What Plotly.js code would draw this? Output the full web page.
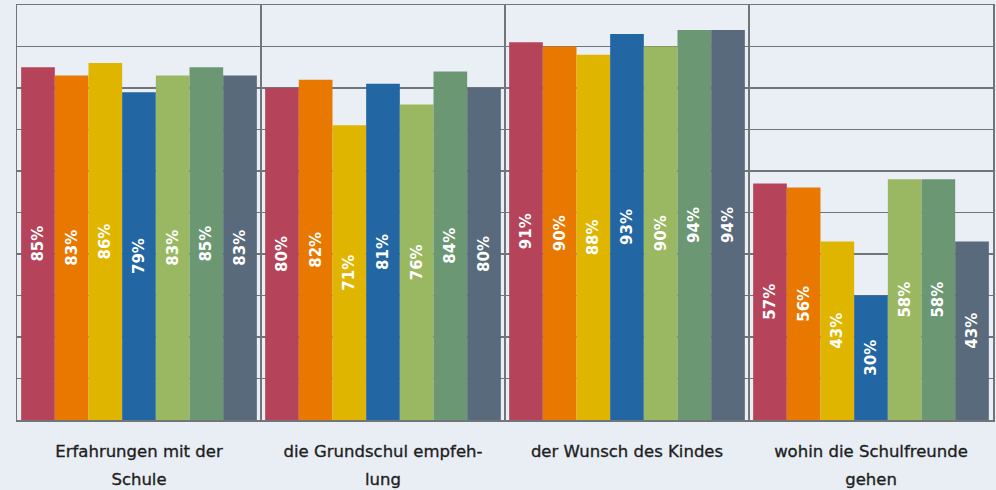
<!DOCTYPE html>
<html>
<head>
<meta charset="utf-8">
<script src="https://cdn.plot.ly/plotly-3.0.1.min.js"></script>
<style>
  html, body { margin: 0; padding: 0; background: #e9eef5; }
  #chart { width: 996px; height: 490px; }
  .xtick text { stroke: #1e1e1e; stroke-width: 0.35px; }
</style>
</head>
<body>
<div id="chart"></div>
<script>
const categories = [
  "Erfahrungen mit der\nSchule",
  "die Grundschul empfeh-\nlung",
  "der Wunsch des Kindes",
  "wohin die Schulfreunde\ngehen"
];
const seriesNames = ["Gruppe 1", "Gruppe 2", "Gruppe 3", "Gruppe 4", "Gruppe 5", "Gruppe 6", "Gruppe 7"];
const s1 = [85, 80, 91, 57];
const s2 = [83, 82, 90, 56];
const s3 = [86, 71, 88, 43];
const s4 = [79, 81, 93, 30];
const s5 = [83, 76, 90, 58];
const s6 = [85, 84, 94, 58];
const s7 = [83, 80, 94, 43];
const seriesValues = [s1, s2, s3, s4, s5, s6, s7];
const colors = ["#b5445a", "#e87800", "#e0b500", "#2266a3", "#9ab862", "#6c9773", "#586a7c"];

const tickText = categories.map(c =>
  c.split("\n").map(line => '<span style="font-size:16.5px">' + line + '</span>').join("<br>")
);

const traces = seriesValues.map((vals, i) => ({
  type: "bar",
  name: seriesNames[i],
  x: categories,
  y: vals,
  marker: { color: colors[i], line: { width: 0 } },
  texttemplate: "%{y}%",
  textposition: "inside",
  insidetextanchor: "middle",
  textangle: -90,
  constraintext: "none",
  textfont: { color: "#ffffff", size: 15, family: "DejaVu Sans", weight: 700 },
  hoverinfo: "none",
  showlegend: false
}));

const gridColor = "#707579";
const layout = {
  width: 996,
  height: 490,
  margin: { l: 17, r: 3, t: 5, b: 70 },
  paper_bgcolor: "#e9eef5",
  plot_bgcolor: "#eaeff6",
  barmode: "group",
  bargap: 0.034,
  bargroupgap: 0,
  showlegend: false,
  font: { family: "DejaVu Sans", color: "#1e1e1e" },
  xaxis: {
    type: "category",
    tickson: "boundaries",
    tickmode: "array",
    tickvals: categories,
    ticktext: tickText,
    showgrid: true,
    gridcolor: gridColor,
    gridwidth: 1.5,
    showline: true,
    mirror: true,
    linecolor: gridColor,
    linewidth: 1.5,
    ticks: "",
    tickfont: { size: 21.5, color: "#1e1e1e", family: "DejaVu Sans" },
    ticklabelstandoff: 10
  },
  yaxis: {
    range: [0, 100],
    dtick: 10,
    showgrid: true,
    gridcolor: gridColor,
    gridwidth: 1.5,
    showline: true,
    mirror: true,
    linecolor: gridColor,
    linewidth: 1.5,
    showticklabels: false,
    ticks: "",
    zeroline: false,
    fixedrange: true
  }
};

Plotly.newPlot("chart", traces, layout, { displayModeBar: false, staticPlot: true });
</script>
</body>
</html>
